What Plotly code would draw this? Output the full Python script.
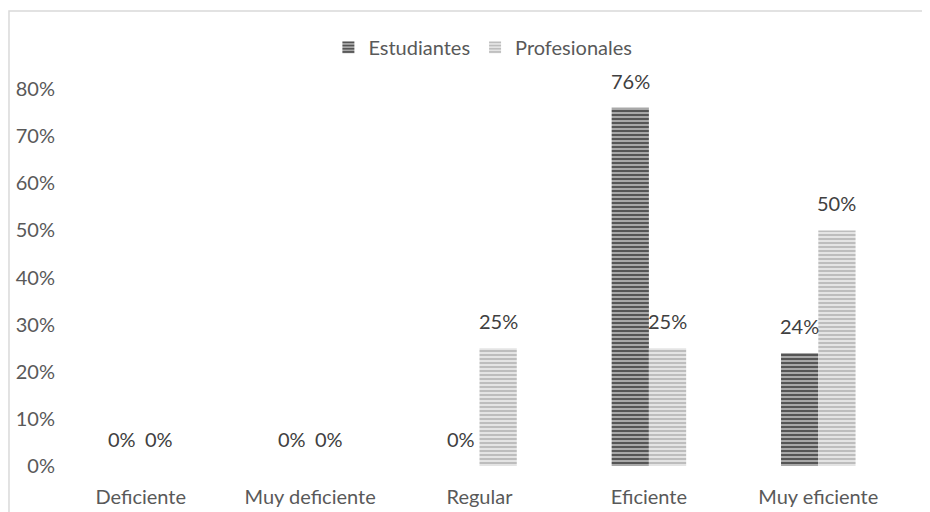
import plotly.graph_objects as go

categories = ["Deficiente", "Muy deficiente", "Regular", "Eficiente", "Muy eficiente"]
estudiantes = [0.0, 0.0, 0.0, 0.76, 0.24]
profesionales = [0.0, 0.0, 0.25, 0.25, 0.50]
y_ticks = [0, 0.1, 0.2, 0.3, 0.4, 0.5, 0.6, 0.7, 0.8]
y_tick_labels = ["0%", "10%", "20%", "30%", "40%", "50%", "60%", "70%", "80%"]

FONT = "Lato, Calibri, sans-serif"
FS = 20

fig = go.Figure()
fig.add_trace(go.Bar(
    name="Estudiantes", x=categories, y=estudiantes,
    marker=dict(color="#9a9a9a", line=dict(width=0),
                pattern=dict(shape="-", fgcolor="#555555", bgcolor="#a8a8a8",
                             size=4, solidity=0.5, fillmode="replace")),
))
fig.add_trace(go.Bar(
    name="Profesionales", x=categories, y=profesionales,
    marker=dict(color="#d0d0d0", line=dict(width=0),
                pattern=dict(shape="-", fgcolor="#bdbdbd", bgcolor="#e4e4e4",
                             size=4, solidity=0.5, fillmode="replace")),
))

annotations = []
for vals, xs in ((estudiantes, -18.5), (profesionales, 18.5)):
    for c, v in zip(categories, vals):
        annotations.append(dict(
            x=c, y=v, xref="x", yref="y", text=f"{round(v*100)}%",
            showarrow=False, xshift=xs, yshift=27, yanchor="middle",
            font=dict(family=FONT, size=FS, color="#404040"),
        ))

fig.update_layout(
    width=930, height=512,
    margin=dict(l=48, r=35, t=81, b=54),
    paper_bgcolor="white", plot_bgcolor="white",
    barmode="group", bargap=0.56, bargroupgap=0,
    font=dict(family=FONT, size=FS, color="#595959"),
    legend=dict(orientation="h", x=0.504, y=1.111, xanchor="center", yanchor="middle",
                font=dict(family=FONT, size=FS, color="#595959"),
                itemwidth=30, traceorder="normal"),
    annotations=annotations,
    shapes=[dict(type="rect", xref="paper", yref="paper",
                 x0=-0.0555, x1=1.04, y0=-0.2, y1=1.207,
                 line=dict(color="#d9d9d9", width=1.5), layer="below")],
    showlegend=True,
)
fig.update_xaxes(showgrid=False, showline=False, zeroline=False, ticks="",
                 automargin=False,
                 tickfont=dict(family=FONT, size=FS, color="#595959"),
                 ticklabelstandoff=17)
fig.update_yaxes(range=[0, 0.8], tickvals=y_ticks, ticktext=y_tick_labels,
                 showgrid=False, showline=False, zeroline=False, ticks="",
                 automargin=False,
                 tickfont=dict(family=FONT, size=FS, color="#595959"))

fig.write_html("out.html")
